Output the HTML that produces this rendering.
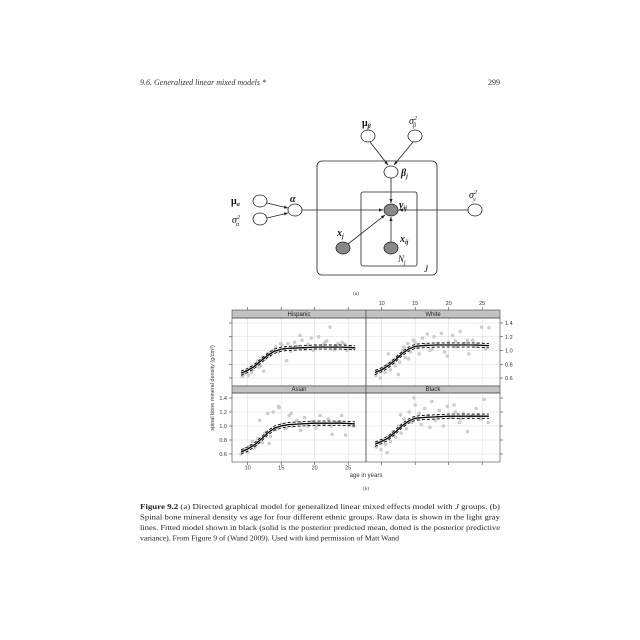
<!DOCTYPE html>
<html><head><meta charset="utf-8"><style>
html,body{margin:0;padding:0;background:#fff;width:640px;height:640px;overflow:hidden}
svg{display:block}
.serif{font-family:"Liberation Serif",serif}
.sans{font-family:"Liberation Sans",sans-serif}
</style></head><body>
<svg id="page" width="640" height="640" viewBox="0 0 640 640" xmlns="http://www.w3.org/2000/svg">
<defs><marker id="ah" viewBox="0 0 10 10" refX="10" refY="5" markerWidth="5" markerHeight="5" orient="auto"><path d="M0,1 L10,5 L0,9 z" fill="#222"/></marker></defs>
<g class="serif" font-size="8" fill="#333">
<text x="140" y="85" font-style="italic">9.6.  Generalized linear mixed models *</text>
<text x="500" y="85" text-anchor="end">299</text>
</g>

<g id="gm" stroke="#222" stroke-width="0.8" fill="none">
<rect x="317" y="161" width="120" height="114" rx="5"/>
<rect x="361" y="192" width="56" height="74" rx="2"/>
<g marker-end="url(#ah)">
<line x1="370" y1="142" x2="388" y2="165"/><line x1="413" y1="142" x2="394" y2="165"/>
<line x1="391" y1="178" x2="391" y2="203"/>
<line x1="267" y1="203" x2="288" y2="208"/><line x1="267" y1="218" x2="288" y2="213"/>
<line x1="302" y1="210" x2="383" y2="210"/><line x1="468" y1="210" x2="399" y2="210"/>
<line x1="348" y1="244" x2="385" y2="215"/><line x1="391" y1="242" x2="391" y2="217"/>
</g>
<g fill="#fff">
<ellipse cx="368" cy="136" rx="7" ry="6"/>
<ellipse cx="415" cy="136" rx="7" ry="6"/>
<ellipse cx="391" cy="172" rx="7" ry="6"/>
<ellipse cx="295" cy="210" rx="7" ry="6"/>
<ellipse cx="260" cy="201" rx="7" ry="6"/>
<ellipse cx="260" cy="219" rx="7" ry="6"/>
<ellipse cx="475" cy="210" rx="7" ry="6"/>
</g>
<g fill="#888">
<ellipse cx="391" cy="210" rx="7" ry="6"/>
<ellipse cx="343" cy="248" rx="7" ry="6"/>
<ellipse cx="391" cy="248" rx="7" ry="6"/>
</g>
</g>
<g class="serif" font-size="10" fill="#111">
<text x="362" y="126" font-weight="bold">μ<tspan font-size="6" dy="2" font-style="italic">β</tspan></text>
<text x="409" y="124" font-style="italic">σ<tspan font-size="6" dy="-4">2</tspan><tspan font-size="6" dx="-4" dy="7">β</tspan></text>
<text x="401" y="176" font-style="italic" font-weight="bold">β<tspan font-size="6" dy="2">j</tspan></text>
<text x="290" y="202" font-style="italic" font-weight="bold">α</text>
<text x="231" y="204" font-weight="bold">μ<tspan font-size="6" dy="2" font-style="italic">α</tspan></text>
<text x="232" y="223" font-style="italic">σ<tspan font-size="6" dy="-4">2</tspan><tspan font-size="6" dx="-4" dy="7">α</tspan></text>
<text x="399" y="208" font-style="italic" font-weight="bold">y<tspan font-size="6" dy="2">ij</tspan></text>
<text x="469" y="198" font-style="italic">σ<tspan font-size="6" dy="-4">2</tspan><tspan font-size="6" dx="-4" dy="7">y</tspan></text>
<text x="337" y="236" font-style="italic" font-weight="bold">x<tspan font-size="6" dy="2">j</tspan></text>
<text x="400" y="242" font-style="italic" font-weight="bold">x<tspan font-size="6" dy="2">ij</tspan></text>
<text x="398" y="262" font-style="italic" font-size="9">N<tspan font-size="6" dy="2">j</tspan></text>
<text x="424" y="272" font-style="italic" font-size="9">J</text>
<text x="356" y="295" font-size="5" font-style="normal" text-anchor="middle">(a)</text>
</g>

<g id="chart"></g>

<g class="serif" font-size="7.6" fill="#222">
<text x="140" y="509" textLength="360" lengthAdjust="spacingAndGlyphs"><tspan font-weight="bold">Figure 9.2</tspan>   (a) Directed graphical model for generalized linear mixed effects model with <tspan font-style="italic">J</tspan> groups.  (b)</text>
<text x="140" y="519.5" textLength="360" lengthAdjust="spacingAndGlyphs">Spinal bone mineral density vs age for four different ethnic groups.  Raw data is shown in the light gray</text>
<text x="140" y="530" textLength="360" lengthAdjust="spacingAndGlyphs">lines. Fitted model shown in black (solid is the posterior predicted mean, dotted is the posterior predictive</text>
<text x="140" y="540.5" textLength="259" lengthAdjust="spacingAndGlyphs">variance). From Figure 9 of (Wand 2009). Used with kind permission of Matt Wand</text>
</g>
</svg>
<script>
const panelNames = ["Hispanic","White","Asian","Black"];
const fitAges = [9,10,11,12,13,14,15,16,18,20,22,24,26];
const fitHispanic = [0.67,0.71,0.77,0.85,0.93,0.99,1.02,1.03,1.04,1.05,1.05,1.05,1.04];
const fitWhite = [0.68,0.72,0.78,0.86,0.95,1.02,1.06,1.07,1.08,1.08,1.08,1.08,1.07];
const fitAsian = [0.63,0.67,0.73,0.81,0.90,0.97,1.00,1.02,1.03,1.04,1.04,1.04,1.03];
const fitBlack = [0.74,0.78,0.83,0.91,1.00,1.07,1.11,1.12,1.13,1.14,1.14,1.14,1.14];
const bandWidth = 0.03;
const rawAgeHispanic = [9.2,9.5,9.8,10.1,10.4,10.8,11.2,11.5,11.9,12.2,12.6,13.0,13.3,13.8,14.2,14.6,15.1,15.5,16.0,16.4,17.0,17.5,18.1,18.6,19.0,19.5,20.1,20.6,21.2,21.8,22.3,22.9,23.5,24.1,24.8,25.3,25.9,15.8,17.8,12.4,10.6,11.7,13.5,14.9,16.8,19.8,21.5,23.2,24.5];
const rawBmdHispanic = [0.62,0.66,0.70,0.64,0.75,0.72,0.80,0.85,0.78,0.90,0.88,0.95,0.92,1.00,1.05,0.98,1.08,1.02,1.10,0.99,1.12,1.06,1.15,1.02,1.09,1.18,1.04,1.20,1.08,1.14,1.34,1.01,1.10,1.12,1.00,1.06,1.03,0.85,1.22,0.70,0.68,0.76,0.98,1.10,1.04,1.00,1.12,1.06,1.09];
const rawAgeWhite = [9.1,9.4,9.8,10.2,10.5,10.9,11.3,11.6,12.0,12.3,12.7,13.1,13.5,13.9,14.3,14.7,15.2,15.6,16.1,16.6,17.2,17.8,18.3,18.9,19.4,20.0,20.6,21.1,21.7,22.4,23.0,23.6,24.2,24.9,25.5,26.0,11.0,12.5,14.0,16.8,19.8,22.8,10.0,11.8,13.3,15.0,17.5,21.0,24.0];
const rawBmdWhite = [0.64,0.70,0.60,0.75,0.68,0.80,0.72,0.85,0.78,0.92,0.83,1.00,0.90,1.10,0.98,1.15,1.05,0.95,1.18,1.08,1.00,1.20,1.10,1.25,0.98,1.12,1.22,1.05,1.28,1.10,0.95,1.15,1.08,1.34,1.02,1.33,0.95,0.65,0.88,1.24,0.92,1.15,0.72,0.82,1.05,1.12,1.02,1.14,1.06];
const rawAgeAsian = [9.0,9.3,9.7,10.0,10.4,10.7,11.1,11.5,11.8,12.2,12.6,13.0,13.4,13.8,14.2,14.7,15.1,15.6,16.2,16.7,17.3,17.9,18.5,19.0,19.6,20.2,20.8,21.4,22.0,22.6,23.3,24.0,24.6,25.2,25.8,13.2,14.6,16.5,22.4,10.2,11.4,12.8,15.8,18.0,20.5,23.8];
const rawBmdAsian = [0.60,0.65,0.68,0.62,0.72,0.78,0.70,0.82,1.08,0.76,0.90,1.18,0.85,1.20,0.95,1.26,1.02,0.96,1.15,1.00,1.08,0.94,1.12,1.00,1.06,0.97,1.15,1.02,1.10,0.88,1.05,1.15,0.87,1.03,1.00,0.75,1.28,1.18,1.00,0.70,0.74,0.92,0.98,1.04,1.01,1.06];
const rawAgeBlack = [9.2,9.5,9.9,10.2,10.6,11.0,11.3,11.7,12.1,12.5,12.9,13.3,13.7,14.1,14.5,15.0,15.4,15.9,16.4,16.9,17.5,18.0,18.6,19.2,19.8,20.4,21.0,21.6,22.2,22.8,23.5,24.1,24.7,25.3,25.9,10.8,12.8,14.8,17.2,20.8,23.0,11.5,13.5,15.6,18.3,21.8,24.4];
const rawBmdBlack = [0.70,0.76,0.66,0.80,0.74,0.85,0.78,0.92,0.84,1.00,0.90,1.10,0.96,1.20,1.05,1.30,1.10,1.02,1.25,1.15,1.35,1.08,1.22,1.00,1.28,1.12,1.20,1.05,1.18,0.92,1.15,1.25,1.10,1.38,1.05,0.62,1.16,1.40,0.98,1.30,1.12,0.88,1.02,1.18,1.14,1.10,1.16];
const xTicks = [10,15,20,25];
const yTicks = [0.6,0.8,1.0,1.2,1.4];
const yTickLabels = ["0.6","0.8","1.0","1.2","1.4"];

const NS = "http://www.w3.org/2000/svg";
const chart = document.getElementById("chart");
function mk(tag, attrs, parent){ const e=document.createElementNS(NS,tag); for(const k in attrs) e.setAttribute(k,attrs[k]); (parent||chart).appendChild(e); return e; }
const panels = [
 {name:panelNames[0], x0:232, plotTop:318, plotBot:386, stripTop:310, fit:fitHispanic, ax:rawAgeHispanic, ay:rawBmdHispanic},
 {name:panelNames[1], x0:366, plotTop:318, plotBot:386, stripTop:310, fit:fitWhite, ax:rawAgeWhite, ay:rawBmdWhite},
 {name:panelNames[2], x0:232, plotTop:393, plotBot:462, stripTop:386, fit:fitAsian, ax:rawAgeAsian, ay:rawBmdAsian},
 {name:panelNames[3], x0:366, plotTop:393, plotBot:462, stripTop:386, fit:fitBlack, ax:rawAgeBlack, ay:rawBmdBlack}
];
const W = 134;
function xs(p,a){ return p.x0 + 15.7 + (a-10)*6.7; }
function ys(p,v){ const y14 = p.plotTop+5, y06 = p.plotBot-8; return y06 + (v-0.6)/(0.8)*(y14-y06); }

panels.forEach(p=>{
  const g = mk("g",{});
  
  
  const grid = mk("g",{stroke:"#dcdcdc","stroke-width":"0.6"},g);
  
  
  xTicks.forEach(t=>mk("line",{x1:xs(p,t),x2:xs(p,t),y1:p.plotTop,y2:p.plotBot},grid));
  yTicks.forEach(t=>mk("line",{x1:p.x0,x2:p.x0+W,y1:ys(p,t),y2:ys(p,t)},grid));
  const sg = mk("g",{},g);
  
  
  p.ax.forEach((a,i)=>{
    const c = mk("circle",{cx:xs(p,a).toFixed(1),cy:ys(p,p.ay[i]).toFixed(1),r:1.5,fill:"#d2d2d2",stroke:"#bdbdbd","stroke-width":"0.5"},sg);
    
    
  });
  const pts = (off)=>fitAges.map((a,i)=>xs(p,a).toFixed(1)+","+ys(p,p.fit[i]+off).toFixed(1)).join(" ");
  const up = mk("polyline",{points:pts(bandWidth),fill:"none",stroke:"#000","stroke-width":"0.9","stroke-dasharray":"3,2"},g);
  
  
  const lo = mk("polyline",{points:pts(-bandWidth),fill:"none",stroke:"#000","stroke-width":"0.9","stroke-dasharray":"3,2"},g);
  
  
  const mn = mk("polyline",{points:pts(0),fill:"none",stroke:"#000","stroke-width":"1.3"},g);
  
  
  const st = mk("rect",{x:p.x0,y:p.stripTop,width:W,height:p.plotTop-p.stripTop,fill:"#c2c2c2",stroke:"#444","stroke-width":"0.6"},g);
  
  
  const tx = mk("text",{x:p.x0+W/2,y:p.plotTop-2,"text-anchor":"middle","font-size":"6",fill:"#222","font-family":"Liberation Sans, sans-serif"},g);
  tx.textContent = p.name;
  
  
  const fr = mk("rect",{x:p.x0,y:p.plotTop,width:W,height:p.plotBot-p.plotTop,fill:"none",stroke:"#444","stroke-width":"0.6"},g);
  
  
});

const ax = mk("g",{"font-family":"Liberation Sans, sans-serif","font-size":"5.5",fill:"#333",stroke:"none"});


function tick(x1,y1,x2,y2){ mk("line",{x1,y1,x2,y2,stroke:"#444","stroke-width":"0.6"},ax); }
function label(x,y,s,anchor){ const t=mk("text",{x,y,"text-anchor":anchor||"middle"},ax); t.textContent=s;   }
xTicks.forEach(t=>{
  const pb=panels[2], pbr=panels[3], pt=panels[1], ptl=panels[0];
  tick(xs(pb,t),462,xs(pb,t),465); label(xs(pb,t),469.5,String(t));
  tick(xs(pbr,t),462,xs(pbr,t),465);
  tick(xs(pt,t),310,xs(pt,t),307); label(xs(pt,t),305,String(t));
  tick(xs(ptl,t),310,xs(ptl,t),307);
});
yTicks.forEach((t,i)=>{
  const pl=panels[2], pr=panels[1], pl0=panels[0], pr3=panels[3];
  tick(232,ys(pl,t),229,ys(pl,t)); label(227,ys(pl,t)+2,yTickLabels[i],"end");
  tick(500,ys(pr,t),503,ys(pr,t)); label(505,ys(pr,t)+2,yTickLabels[i],"start");
  tick(232,ys(pl0,t),229,ys(pl0,t));
  tick(500,ys(pr3,t),503,ys(pr3,t));
});
const xt = mk("text",{x:366,y:477,"text-anchor":"middle","font-size":"6"},ax);
xt.textContent="age in years";


const yt = mk("text",{x:0,y:0,"text-anchor":"middle","font-size":"5.5",transform:"translate(214,388) rotate(-90)"},ax);
yt.textContent="spinal bone mineral density (g/cm²)";


const lb = mk("text",{x:366,y:490,"text-anchor":"middle","font-size":"5","font-family":"Liberation Serif, serif"},ax);
lb.textContent="(b)";


</script>
</body></html>
